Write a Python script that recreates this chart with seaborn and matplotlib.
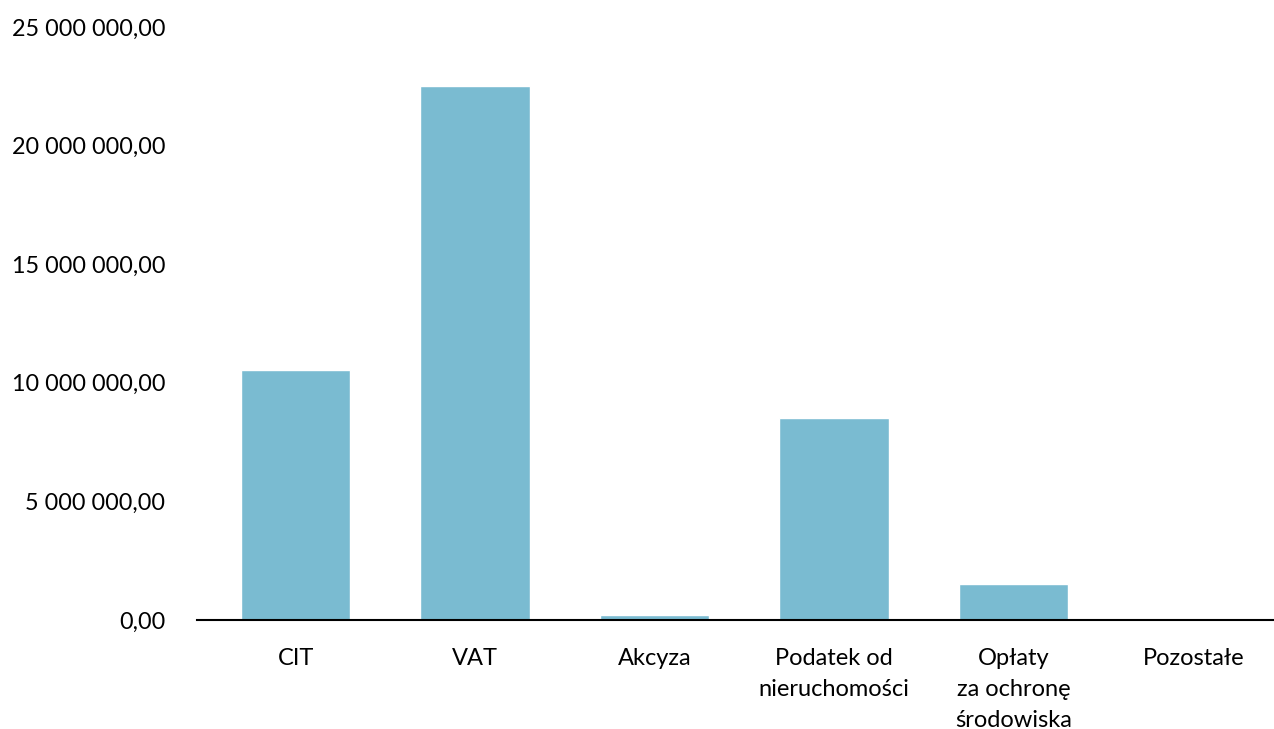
import matplotlib
matplotlib.use("Agg")
import matplotlib.pyplot as plt
import seaborn as sns
import pandas as pd
from matplotlib.ticker import FuncFormatter

categories = ["CIT", "VAT", "Akcyza", "Podatek od\nnieruchomości",
              "Opłaty\nza ochronę\nśrodowiska", "Pozostałe"]
values = [10550000, 22530000, 200000, 8520000, 1520000, 0]
y_ticks = [0, 5000000, 10000000, 15000000, 20000000, 25000000]

df = pd.DataFrame({"kategoria": categories, "kwota": values})

sns.set_theme(style="white")
plt.rcParams["font.family"] = ["Lato", "DejaVu Sans"]

fig = plt.figure(figsize=(12.74, 7.29), dpi=100)
ax = fig.add_axes([0.1546, 0.1495, 0.8454, 0.8135])

sns.barplot(data=df, x="kategoria", y="kwota", color="#7ABBD1",
            saturation=1, width=0.61, ax=ax)


def pl_fmt(v, pos):
    s = f"{v:,.2f}"
    return s.replace(",", " ").replace(".", ",")


ax.set_ylim(0, 25000000)
ax.set_xlim(-0.55, 5.45)
ax.set_yticks(y_ticks)
ax.yaxis.set_major_formatter(FuncFormatter(pl_fmt))
ax.set_xlabel("")
ax.set_ylabel("")

for side in ["left", "right", "top"]:
    ax.spines[side].set_visible(False)
ax.spines["bottom"].set_color("black")
ax.spines["bottom"].set_linewidth(1.5)

ax.tick_params(axis="y", length=0, pad=23, labelsize=16.8, labelcolor="black")
ax.tick_params(axis="x", length=0, pad=20, labelsize=17, labelcolor="black")
for lbl in ax.get_xticklabels():
    lbl.set_linespacing(1.58)
    lbl.set_va("top")

fig.savefig("out.png", dpi=100)
